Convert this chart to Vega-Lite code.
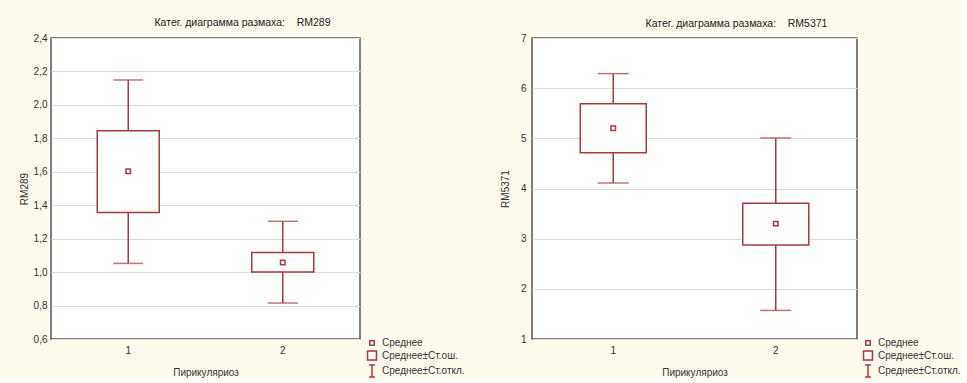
{
  "$schema": "https://vega.github.io/schema/vega-lite/v6.json",
  "background": "#fefaee",
  "padding": {"left": 18, "top": 16, "right": 0, "bottom": 0},
  "spacing": 33,
  "resolve": {"scale": {"shape": "independent", "size": "independent"}, "legend": {"shape": "independent", "size": "independent"}},
  "datasets": {
    "left": [
      {"g": "1", "kind": "Среднее", "mean": 1.603, "se_lo": 1.357, "se_hi": 1.846, "sd_lo": 1.052, "sd_hi": 2.149},
      {"g": "2", "kind": "Среднее", "mean": 1.058, "se_lo": 1.0, "se_hi": 1.118, "sd_lo": 0.815, "sd_hi": 1.304}
    ],
    "right": [
      {"g": "1", "kind": "Среднее", "mean": 5.2, "se_lo": 4.714, "se_hi": 5.69, "sd_lo": 4.11, "sd_hi": 6.29},
      {"g": "2", "kind": "Среднее", "mean": 3.3, "se_lo": 2.874, "se_hi": 3.705, "sd_lo": 1.57, "sd_hi": 5.007}
    ]
  },
  "config": {
    "font": "Liberation Sans",
    "view": {"fill": "white", "stroke": "#555555", "strokeWidth": 1.5},
    "title": {"fontSize": 10.5, "fontWeight": "normal", "color": "#222222"},
    "axis": {"labelFontSize": 10, "titleFontSize": 10, "titleFontWeight": "normal", "labelColor": "#333333", "titleColor": "#333333", "domain": false, "ticks": false, "labelOverlap": false, "labelFlush": false},
    "axisY": {"gridColor": "#dddddd"},
    "legend": {"labelFontSize": 10, "labelColor": "#333333"}
  },
  "hconcat": [
    {
      "width": 309,
      "height": 301,
      "title": {"text": "Катег. диаграмма размаха:\u00a0\u00a0\u00a0\u00a0RM289", "frame": "group", "anchor": "middle", "dx": 37, "offset": 5},
      "data": {"name": "left"},
      "encoding": {
        "x": {"field": "g", "type": "ordinal", "title": "Пирикуляриоз", "scale": {"paddingInner": 0, "paddingOuter": 0}, "axis": {"labelAngle": 0, "labelPadding": 6, "titlePadding": 12, "grid": false}}
      },
      "layer": [
        {
          "mark": {"type": "rule", "color": "#a83a3e", "strokeWidth": 1.5},
          "encoding": {
            "y": {"field": "sd_lo", "type": "quantitative", "title": "RM289", "scale": {"domain": [0.6, 2.4], "nice": false, "zero": false}, "axis": {"values": [0.6, 0.8, 1.0, 1.2, 1.4, 1.6, 1.8, 2.0, 2.2, 2.4], "labelExpr": "replace(format(datum.value, '.1f'), '.', ',')", "labelPadding": 4, "titlePadding": 4}},
            "y2": {"field": "sd_hi"}
          }
        },
        {
          "mark": {"type": "bar", "fill": "white", "stroke": "#a83a3e", "strokeWidth": 1.5, "size": 62},
          "encoding": {"y": {"field": "se_lo", "type": "quantitative", "title": "RM289", "axis": {"values": [0.6, 0.8, 1.0, 1.2, 1.4, 1.6, 1.8, 2.0, 2.2, 2.4], "labelExpr": "replace(format(datum.value, '.1f'), '.', ',')", "labelPadding": 4, "titlePadding": 4}}, "y2": {"field": "se_hi"}}
        },
        {
          "mark": {"type": "tick", "color": "#a83a3e", "thickness": 1.5, "size": 30},
          "encoding": {"y": {"field": "sd_lo", "type": "quantitative", "title": "RM289", "axis": {"values": [0.6, 0.8, 1.0, 1.2, 1.4, 1.6, 1.8, 2.0, 2.2, 2.4], "labelExpr": "replace(format(datum.value, '.1f'), '.', ',')", "labelPadding": 4, "titlePadding": 4}}}
        },
        {
          "mark": {"type": "tick", "color": "#a83a3e", "thickness": 1.5, "size": 30},
          "encoding": {"y": {"field": "sd_hi", "type": "quantitative", "title": "RM289", "axis": {"values": [0.6, 0.8, 1.0, 1.2, 1.4, 1.6, 1.8, 2.0, 2.2, 2.4], "labelExpr": "replace(format(datum.value, '.1f'), '.', ',')", "labelPadding": 4, "titlePadding": 4}}}
        },
        {
          "mark": {"type": "point", "filled": false, "color": "#a83a3e", "strokeWidth": 1.5, "opacity": 1},
          "encoding": {
            "y": {"field": "mean", "type": "quantitative", "title": "RM289", "axis": {"values": [0.6, 0.8, 1.0, 1.2, 1.4, 1.6, 1.8, 2.0, 2.2, 2.4], "labelExpr": "replace(format(datum.value, '.1f'), '.', ',')", "labelPadding": 4, "titlePadding": 4}},
            "shape": {"field": "kind", "type": "nominal", "scale": {"domain": ["Среднее", "Среднее±Ст.ош.", "Среднее±Ст.откл."], "range": ["square", "square", "M-0.5,-1H0.5M0,-1V1M-0.5,1H0.5"]}, "legend": {"title": null, "orient": "none", "legendX": 314, "legendY": 300, "rowPadding": -1, "symbolStrokeColor": "#a83a3e", "symbolStrokeWidth": 1.5, "labelOffset": 3}},
            "size": {"field": "kind", "type": "nominal", "scale": {"domain": ["Среднее", "Среднее±Ст.ош.", "Среднее±Ст.откл."], "range": [20, 140, 140]}}
          }
        }
      ]
    },
    {
      "width": 325,
      "height": 301,
      "title": {"text": "Катег. диаграмма размаха:\u00a0\u00a0\u00a0\u00a0RM5371", "frame": "group", "anchor": "middle", "dx": 42, "offset": 4},
      "data": {"name": "right"},
      "encoding": {
        "x": {"field": "g", "type": "ordinal", "title": "Пирикуляриоз", "scale": {"paddingInner": 0, "paddingOuter": 0}, "axis": {"labelAngle": 0, "labelPadding": 6, "titlePadding": 12, "grid": false}}
      },
      "layer": [
        {
          "mark": {"type": "rule", "color": "#a83a3e", "strokeWidth": 1.5},
          "encoding": {
            "y": {"field": "sd_lo", "type": "quantitative", "title": "RM5371", "scale": {"domain": [1, 7], "nice": false, "zero": false}, "axis": {"values": [1, 2, 3, 4, 5, 6, 7], "labelPadding": 6, "titlePadding": 10}},
            "y2": {"field": "sd_hi"}
          }
        },
        {
          "mark": {"type": "bar", "fill": "white", "stroke": "#a83a3e", "strokeWidth": 1.5, "size": 66},
          "encoding": {"y": {"field": "se_lo", "type": "quantitative", "title": "RM5371", "axis": {"values": [1, 2, 3, 4, 5, 6, 7], "labelPadding": 6, "titlePadding": 10}}, "y2": {"field": "se_hi"}}
        },
        {
          "mark": {"type": "tick", "color": "#a83a3e", "thickness": 1.5, "size": 31},
          "encoding": {"y": {"field": "sd_lo", "type": "quantitative", "title": "RM5371", "axis": {"values": [1, 2, 3, 4, 5, 6, 7], "labelPadding": 6, "titlePadding": 10}}}
        },
        {
          "mark": {"type": "tick", "color": "#a83a3e", "thickness": 1.5, "size": 31},
          "encoding": {"y": {"field": "sd_hi", "type": "quantitative", "title": "RM5371", "axis": {"values": [1, 2, 3, 4, 5, 6, 7], "labelPadding": 6, "titlePadding": 10}}}
        },
        {
          "mark": {"type": "point", "filled": false, "color": "#a83a3e", "strokeWidth": 1.5, "opacity": 1},
          "encoding": {
            "y": {"field": "mean", "type": "quantitative", "title": "RM5371", "axis": {"values": [1, 2, 3, 4, 5, 6, 7], "labelPadding": 6, "titlePadding": 10}},
            "shape": {"field": "kind", "type": "nominal", "scale": {"domain": ["Среднее", "Среднее±Ст.ош.", "Среднее±Ст.откл."], "range": ["square", "square", "M-0.5,-1H0.5M0,-1V1M-0.5,1H0.5"]}, "legend": {"title": null, "orient": "none", "legendX": 329, "legendY": 300, "rowPadding": -1, "symbolStrokeColor": "#a83a3e", "symbolStrokeWidth": 1.5, "labelOffset": 3}},
            "size": {"field": "kind", "type": "nominal", "scale": {"domain": ["Среднее", "Среднее±Ст.ош.", "Среднее±Ст.откл."], "range": [20, 140, 140]}}
          }
        }
      ]
    }
  ]
}
